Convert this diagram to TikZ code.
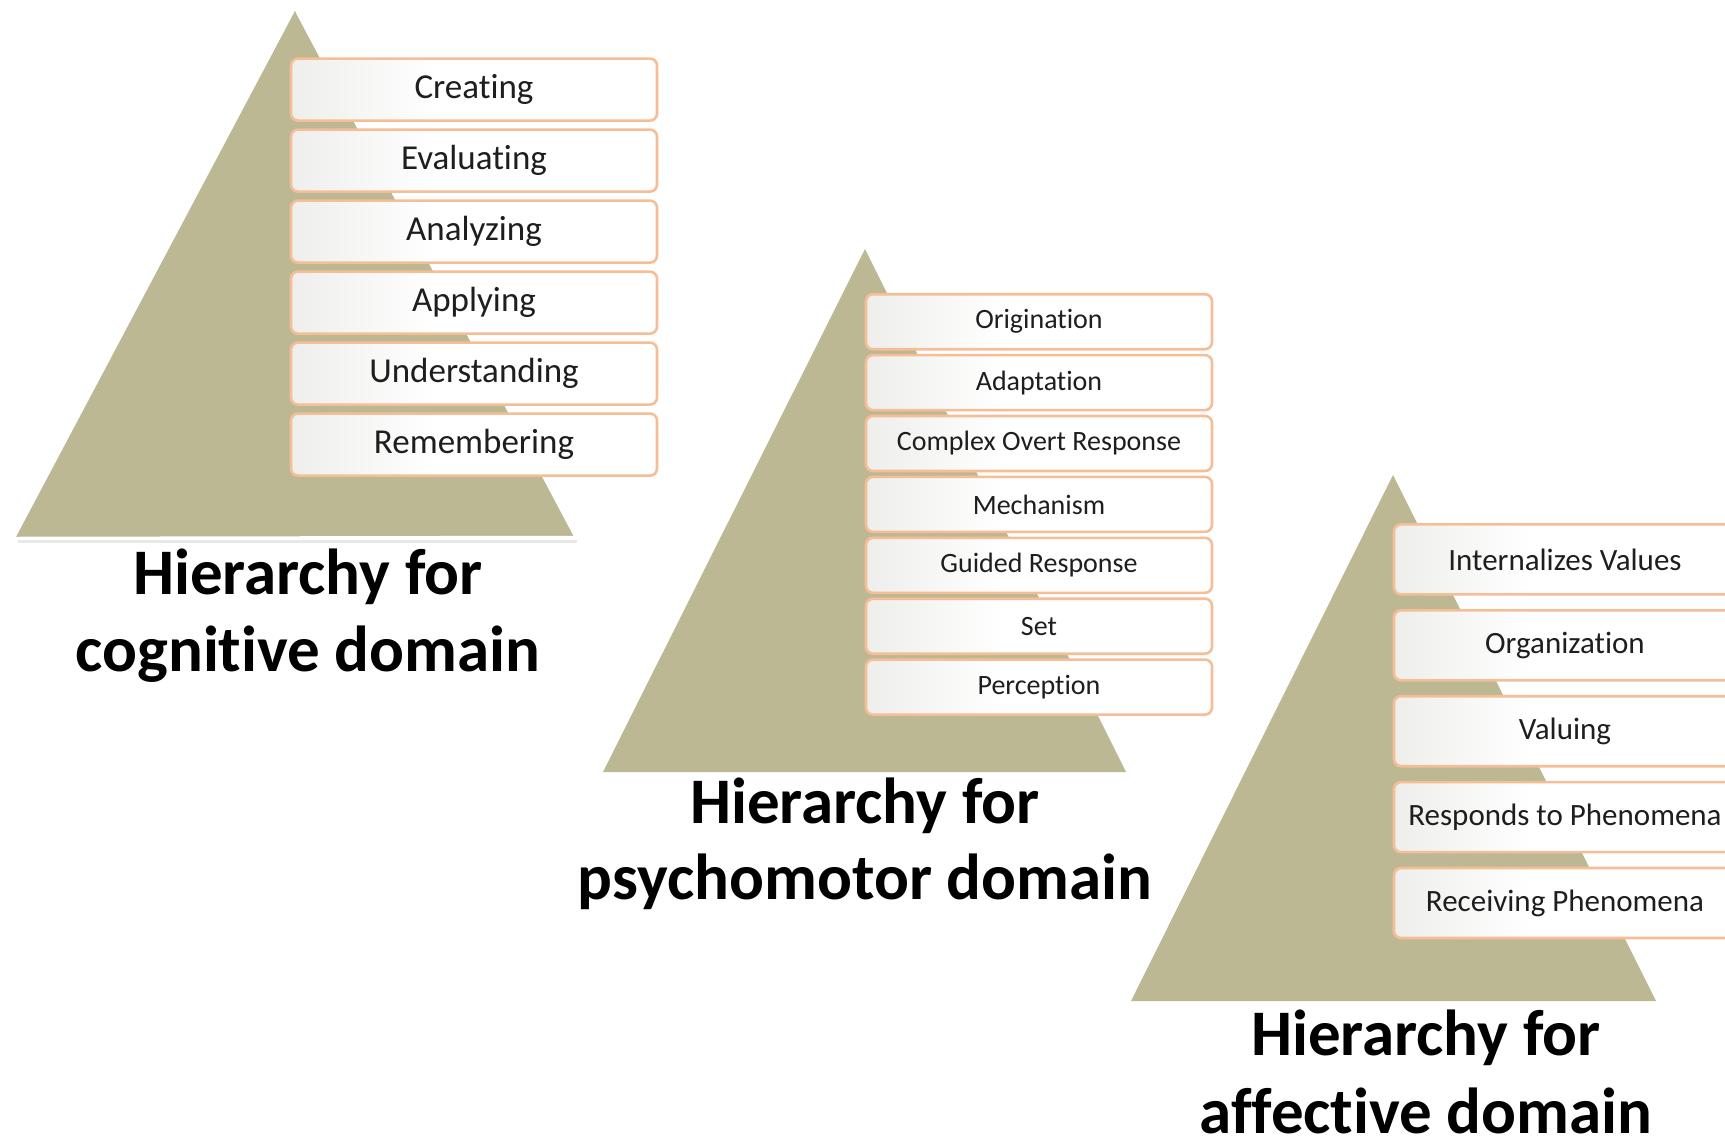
\documentclass[tikz,border=0pt]{standalone}
\usepackage{fontspec}
\setmainfont{Carlito}[Ligatures=NoCommon]
\definecolor{pyr}{RGB}{189,184,148}
\definecolor{boxline}{RGB}{246,190,150}
\definecolor{boxgray}{RGB}{238,238,236}
\definecolor{txt}{RGB}{30,30,30}
\pgfdeclarehorizontalshading{boxshade}{100bp}{color(0bp)=(boxgray); color(25bp)=(boxgray); color(45bp)=(white); color(100bp)=(white)}
\tikzset{
  pyramid/.style={fill=pyr, draw=none},
  levelbox/.style={draw=boxline, line width=2.6pt, rounded corners=7pt, shading=boxshade, text=txt, inner sep=0pt},
  boxA/.style={levelbox, minimum width=366pt, minimum height=62pt, font=\fontsize{35}{40}\selectfont},
  boxB/.style={levelbox, minimum width=346pt, minimum height=55pt, font=\fontsize{28}{32}\selectfont},
  boxC/.style={levelbox, minimum width=342pt, minimum height=70pt, font=\fontsize{31}{36}\selectfont},
  title/.style={anchor=base, inner sep=0pt, font=\bfseries\fontsize{65}{72}\selectfont, text=black}
}
\begin{document}
\begin{tikzpicture}[x=1pt,y=-1pt]
\useasboundingbox (0,0) rectangle (1725,1138);
\clip (0,0) rectangle (1725,1138);
\fill[white] (0,0) rectangle (1725,1138);

% ---------- cognitive ----------
\fill[black!9] (18,540) -- (577,540) -- (577,543) -- (18,543) -- cycle;
\fill[pyramid] (295,11) -- (574,537) -- (16,537) -- cycle;
\draw[white, line width=2.5pt] (297,12) -- (576,537) -- (16,538);
\foreach \t [count=\i from 0] in {Creating,Evaluating,Analyzing,Applying,Understanding,Remembering}
  \node[boxA] (c\i) at (474,{89.6+71*\i}) {\t};
\node[title] (t1a) at (308,594) {Hierarchy for};
\node[title] (t1b) at (308,671) {cognitive domain};

% ---------- psychomotor ----------
\fill[pyramid] (865,249) -- (1126,772) -- (603,772) -- cycle;
\foreach \t [count=\i from 0] in {Origination,Adaptation,Complex Overt Response,Mechanism,Guided Response,Set,Perception}
  \node[boxB] (p\i) at (1039,{321.7+60.9*\i}) {\t};
\node[title] (t2a) at (865,823) {Hierarchy for};
\node[title] (t2b) at (865,899) {psychomotor domain};

% ---------- affective ----------
\fill[pyramid] (1393,475) -- (1656,1001) -- (1131,1001) -- cycle;
\foreach \t [count=\i from 0] in {Internalizes Values,Organization,Valuing,Responds to Phenomena,Receiving Phenomena}
  \node[boxC] (a\i) at (1565,{559.4+85.9*\i}) {\t};
\node[title] (t3a) at (1426,1055) {Hierarchy for};
\node[title, text depth=0pt] (t3b) at (1426,1133) {affective domain};
\end{tikzpicture}
\end{document}
